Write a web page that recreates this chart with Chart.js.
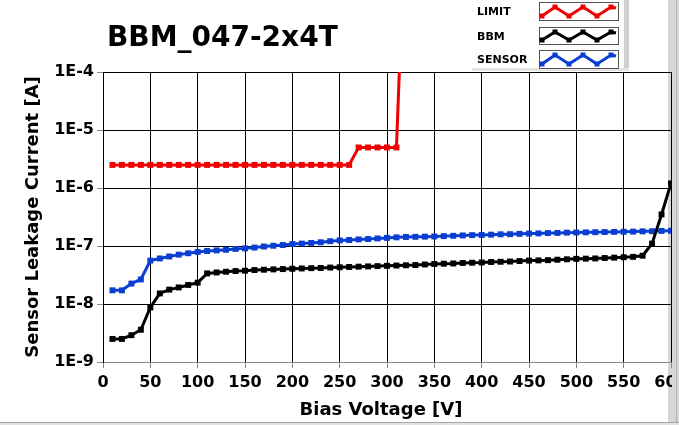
<!DOCTYPE html>
<html lang="en">

<head>
    <meta charset="utf8" />
    <script src="https://cdnjs.cloudflare.com/ajax/libs/Chart.js/4.4.1/chart.umd.min.js"></script>
    <title>BBM_047-2x4T</title>
    <style>
        html, body { margin: 0; padding: 0; background: #fff; }
        #wrap { position: relative; width: 679px; height: 425px; }
    </style>
</head>

<body>
    <div id="wrap">
        <canvas id="ivChart" width="679" height="425"></canvas>
    </div>

    <script>
        const title = 'BBM_047-2x4T';
        const xTitle = 'Bias Voltage [V]';
        const yTitle = 'Sensor Leakage Current [A]';

        // bias voltage steps [V]
        const volts = [10, 20, 30, 40, 50, 60, 70, 80, 90, 100,
            110, 120, 130, 140, 150, 160, 170, 180, 190, 200,
            210, 220, 230, 240, 250, 260, 270, 280, 290, 300,
            310, 320, 330, 340, 350, 360, 370, 380, 390, 400,
            410, 420, 430, 440, 450, 460, 470, 480, 490, 500,
            510, 520, 530, 540, 550, 560, 570, 580, 590, 600];

        // currents [A]
        const limit = [2.5e-6, 2.5e-6, 2.5e-6, 2.5e-6, 2.5e-6, 2.5e-6, 2.5e-6, 2.5e-6, 2.5e-6, 2.5e-6,
            2.5e-6, 2.5e-6, 2.5e-6, 2.5e-6, 2.5e-6, 2.5e-6, 2.5e-6, 2.5e-6, 2.5e-6, 2.5e-6,
            2.5e-6, 2.5e-6, 2.5e-6, 2.5e-6, 2.5e-6, 2.5e-6, 5e-6, 5e-6, 5e-6, 5e-6,
            5e-6, 1e-1];

        const bbm = [2.5e-9, 2.5e-9, 2.9e-9, 3.6e-9, 8.7e-9, 1.52e-8, 1.77e-8, 1.93e-8, 2.13e-8, 2.33e-8,
            3.37e-8, 3.5e-8, 3.6e-8, 3.7e-8, 3.75e-8, 3.85e-8, 3.9e-8, 3.95e-8, 4.0e-8, 4.05e-8,
            4.1e-8, 4.15e-8, 4.18e-8, 4.25e-8, 4.3e-8, 4.35e-8, 4.4e-8, 4.45e-8, 4.5e-8, 4.55e-8,
            4.6e-8, 4.65e-8, 4.7e-8, 4.8e-8, 4.9e-8, 4.95e-8, 5.0e-8, 5.1e-8, 5.15e-8, 5.2e-8,
            5.3e-8, 5.35e-8, 5.4e-8, 5.5e-8, 5.6e-8, 5.65e-8, 5.7e-8, 5.8e-8, 5.9e-8, 6.0e-8,
            6.05e-8, 6.1e-8, 6.2e-8, 6.3e-8, 6.4e-8, 6.5e-8, 6.8e-8, 1.1e-7, 3.5e-7, 1.2e-6];

        const sensor = [1.72e-8, 1.72e-8, 2.25e-8, 2.65e-8, 5.6e-8, 6.1e-8, 6.6e-8, 7.1e-8, 7.5e-8, 7.9e-8,
            8.2e-8, 8.4e-8, 8.6e-8, 8.9e-8, 9.1e-8, 9.4e-8, 9.8e-8, 1.01e-7, 1.04e-7, 1.08e-7,
            1.1e-7, 1.13e-7, 1.16e-7, 1.21e-7, 1.25e-7, 1.27e-7, 1.3e-7, 1.32e-7, 1.35e-7, 1.38e-7,
            1.41e-7, 1.43e-7, 1.44e-7, 1.45e-7, 1.46e-7, 1.48e-7, 1.5e-7, 1.52e-7, 1.54e-7, 1.55e-7,
            1.57e-7, 1.59e-7, 1.6e-7, 1.62e-7, 1.64e-7, 1.65e-7, 1.67e-7, 1.68e-7, 1.7e-7, 1.71e-7,
            1.72e-7, 1.73e-7, 1.74e-7, 1.75e-7, 1.76e-7, 1.77e-7, 1.79e-7, 1.8e-7, 1.82e-7, 1.83e-7];

        const yTicks = [1e-9, 1e-8, 1e-7, 1e-6, 1e-5, 1e-4];

        const seriesNames = ['LIMIT', 'BBM', 'SENSOR'];
        const seriesColors = ['#f00000', '#000000', '#0a3ed0'];

        const FONT = "'DejaVu Sans', Verdana, sans-serif";

        function points(values) {
            return values.map((v, i) => ({ x: volts[i], y: v }));
        }

        // title, legend box and the grey window edges
        const decor = {
            id: 'decor',
            beforeDraw(chart) {
                const ctx = chart.ctx;
                ctx.save();
                ctx.fillStyle = '#d6d6d6';
                ctx.fillRect(668, 0, 11, 425);
                ctx.restore();
            },
            afterDraw(chart) {
                const ctx = chart.ctx;
                ctx.save();

                // right strip over the plot edge
                ctx.fillStyle = '#d6d6d6';
                ctx.fillRect(672, 0, 7, 425);
                ctx.fillStyle = '#b4b4b4';
                ctx.fillRect(676, 0, 1, 425);

                // bottom edge
                ctx.fillStyle = '#a8a8a8';
                ctx.fillRect(0, 422, 679, 1);
                ctx.fillStyle = '#e2e2e2';
                ctx.fillRect(0, 423, 679, 2);

                // titles
                ctx.fillStyle = '#000';
                ctx.font = 'bold 28px ' + FONT;
                ctx.textBaseline = 'alphabetic';
                ctx.textAlign = 'left';
                ctx.fillText(title, 107, 46);

                ctx.font = 'bold 18px ' + FONT;
                ctx.textAlign = 'center';
                ctx.fillText(xTitle, 381, 415);
                ctx.textAlign = 'left';

                // legend panel
                ctx.fillStyle = '#fff';
                ctx.fillRect(470, 0, 154, 68);
                ctx.fillStyle = '#d0d0d0';
                ctx.fillRect(624, 0, 5, 71);
                ctx.fillStyle = '#e4e4e4';
                ctx.fillRect(472, 68, 157, 3);

                const boxes = [[2, 21], [27, 45], [50, 69]];
                seriesNames.forEach((name, i) => {
                    const [top, bot] = boxes[i];
                    const mid = (top + bot) / 2;
                    ctx.fillStyle = '#000';
                    ctx.font = 'bold 11px ' + FONT;
                    ctx.textBaseline = 'middle';
                    ctx.fillText(name, 477, mid + 1);

                    ctx.fillStyle = '#fff';
                    ctx.fillRect(539, top, 80, bot - top);
                    ctx.strokeStyle = '#555';
                    ctx.lineWidth = 1;
                    ctx.strokeRect(539.5, top + 0.5, 79, bot - top - 1);

                    const hi = top + 5, lo = bot - 5;
                    const xs = [542, 555, 569, 583, 597, 611, 616];
                    const ys = [lo, hi, lo, hi, lo, hi, hi + 1];
                    ctx.strokeStyle = seriesColors[i];
                    ctx.lineWidth = 3;
                    ctx.lineJoin = 'miter';
                    ctx.beginPath();
                    xs.forEach((x, k) => k ? ctx.lineTo(x, ys[k]) : ctx.moveTo(x, ys[k]));
                    ctx.stroke();
                    ctx.fillStyle = seriesColors[i];
                    for (let k = 0; k < 6; k++) {
                        ctx.fillRect(xs[k] - 2.5, ys[k] - 2.5, 5, 5);
                    }
                });

                ctx.restore();
            }
        };

        const ctx = document.getElementById('ivChart').getContext('2d');

        new Chart(ctx, {
            type: 'line',
            data: {
                datasets: [limit, bbm, sensor].map((vals, i) => ({
                    label: seriesNames[i],
                    data: points(vals),
                    borderColor: seriesColors[i],
                    backgroundColor: seriesColors[i],
                    borderWidth: 3,
                    pointStyle: 'rect',
                    pointRadius: 4.2,
                    pointBorderWidth: 0,
                    tension: 0
                }))
            },
            options: {
                responsive: false,
                animation: false,
                events: [],
                layout: { padding: { left: 0, top: 72, right: 8, bottom: 0 } },
                plugins: {
                    legend: { display: false },
                    tooltip: { enabled: false }
                },
                scales: {
                    x: {
                        type: 'linear',
                        min: 0,
                        max: 600,
                        afterFit(scale) {
                            scale.height = 63;
                            scale.paddingLeft = 0;
                            scale.paddingRight = 0;
                        },
                        ticks: {
                            stepSize: 50,
                            maxRotation: 0,
                            autoSkip: false,
                            padding: 5,
                            color: '#000',
                            font: { family: FONT, size: 16, weight: 'bold' }
                        },
                        grid: {
                            color: '#000',
                            lineWidth: 1,
                            tickLength: 6,
                            tickColor: '#888'
                        },
                        border: { color: '#888' }
                    },
                    y: {
                        type: 'logarithmic',
                        min: 1e-9,
                        max: 1e-4,
                        afterBuildTicks(scale) {
                            scale.ticks = yTicks.map(v => ({ value: v }));
                        },
                        afterFit(scale) {
                            scale.width = 103;
                        },
                        ticks: {
                            padding: 3,
                            color: '#000',
                            font: { family: FONT, size: 16, weight: 'bold' },
                            callback: v => '1E' + Math.round(Math.log10(v))
                        },
                        grid: {
                            color: c => (c.tick && c.tick.value === 1e-9) ? '#888' : '#000',
                            lineWidth: 1,
                            tickLength: 6,
                            tickColor: '#888'
                        },
                        border: { color: '#000' },
                        title: {
                            display: true,
                            text: yTitle,
                            color: '#000',
                            padding: { top: 23, bottom: 0 },
                            font: { family: FONT, size: 18, weight: 'bold' }
                        }
                    }
                }
            },
            plugins: [decor]
        });
    </script>
</body>

</html>
